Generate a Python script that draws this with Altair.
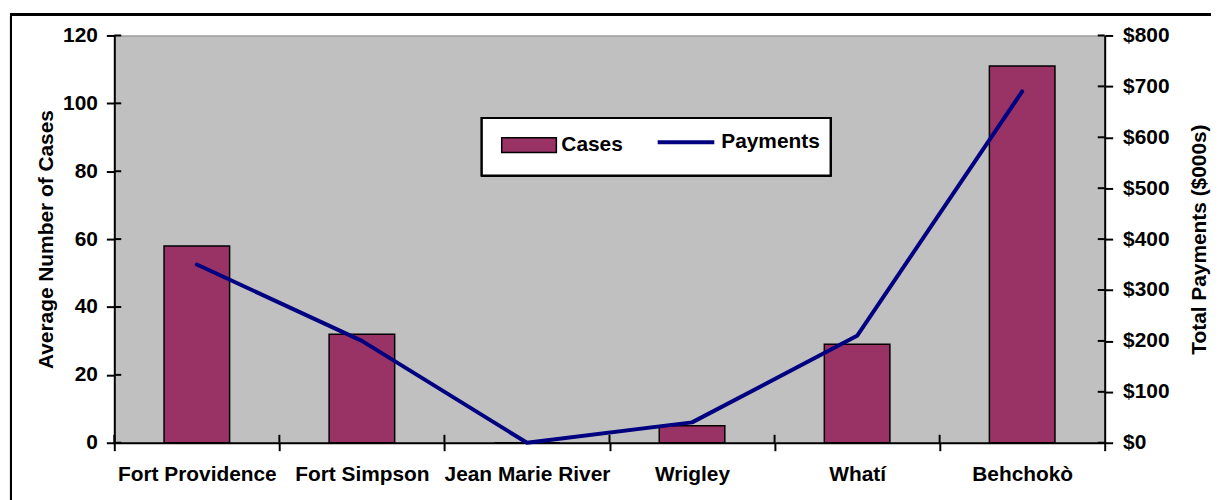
import altair as alt
import pandas as pd

towns = ["Fort Providence", "Fort Simpson", "Jean Marie River", "Wrigley", "Whatí", "Behchokò"]
cases = [58, 32, 0, 5, 29, 111]
payments = [350, 200, 0, 40, 210, 690]
case_ticks = [0, 20, 40, 60, 80, 100, 120]
pay_ticks = [0, 100, 200, 300, 400, 500, 600, 700, 800]

FONT = "Liberation Sans"
FS = 21
W, H = 997, 410

bar_df = pd.DataFrame({"town": towns, "cases": cases, "series": ["Cases"] * len(towns)})
line_df = pd.DataFrame({"town": towns, "payments": payments, "series": ["Payments"] * len(towns)})
ctick_df = pd.DataFrame({"cases": case_ticks})
ptick_df = pd.DataFrame({"payments": pay_ticks})
xtick_df = pd.DataFrame({"town": towns})

xscale = alt.Scale(domain=towns, paddingInner=0, paddingOuter=0)
xaxis = alt.Axis(
    title=None, labelAngle=0, labelFont=FONT, labelFontSize=FS, labelFontWeight="bold",
    labelColor="black", tickBand="extent", tickSize=8, tickWidth=2, tickColor="black",
    domainColor="black", domainWidth=2, labelPadding=13, grid=False,
)

bars = alt.Chart(bar_df).mark_bar(stroke="black", strokeWidth=1.5, size=66).encode(
    x=alt.X("town:N", sort=towns, scale=xscale, axis=xaxis),
    y=alt.Y(
        "cases:Q",
        scale=alt.Scale(domain=[0, 120], nice=False),
        axis=alt.Axis(
            title="Average Number of Cases", values=case_ticks, grid=False,
            labelFont=FONT, labelFontSize=FS, labelFontWeight="bold", labelColor="black",
            tickSize=8, tickWidth=2, tickColor="black", domainColor="black", domainWidth=2,
            labelPadding=9, titleFont=FONT, titleFontSize=FS, titleFontWeight="bold",
            titleColor="black", titleAngle=270, titleX=-62, titleY=H / 2,
            titleBaseline="alphabetic", titleAlign="center",
        ),
    ),
    fill=alt.Fill(
        "series:N",
        scale=alt.Scale(domain=["Cases"], range=["#993366"]),
        legend=alt.Legend(
            orient="none", legendX=389, legendY=82, direction="horizontal", title=None,
            symbolType="M-1,-0.27H1V0.27H-1Z", symbolSize=3025, symbolStrokeColor="black",
            symbolStrokeWidth=1.5, symbolOpacity=1, labelFont=FONT, labelFontSize=FS,
            labelFontWeight="bold", labelColor="black", labelOffset=4, padding=0, zindex=1,
        ),
    ),
)

frame = alt.Chart(bar_df).mark_rect(filled=False, stroke="black", strokeWidth=2).encode(
    x=alt.value(-104), x2=alt.value(1300), y=alt.value(-21), y2=alt.value(700)
)

left_ticks = alt.Chart(ctick_df).mark_rule(color="black", strokeWidth=2).encode(
    y=alt.Y("cases:Q"), x=alt.value(0), x2=alt.value(7)
)

x_ticks = alt.Chart(xtick_df).mark_rule(color="black", strokeWidth=2).encode(
    x=alt.X("town:N", sort=towns, bandPosition=0), y=alt.value(H - 8), y2=alt.value(H)
)

line = alt.Chart(line_df).mark_line(strokeWidth=4, strokeCap="round", strokeJoin="round").encode(
    x=alt.X("town:N", sort=towns, scale=xscale, axis=xaxis),
    y=alt.Y(
        "payments:Q",
        scale=alt.Scale(domain=[0, 800], nice=False),
        axis=alt.Axis(
            orient="right", title="Total Payments ($000s)", values=pay_ticks, grid=False,
            labelExpr="'$' + datum.value",
            labelFont=FONT, labelFontSize=FS, labelFontWeight="bold", labelColor="black",
            tickSize=8, tickWidth=2, tickColor="black", domainColor="black", domainWidth=2,
            labelPadding=10, titleFont=FONT, titleFontSize=FS, titleFontWeight="bold",
            titleColor="black", titleAngle=270, titleX=101, titleY=H / 2,
            titleBaseline="alphabetic", titleAlign="center",
        ),
    ),
    stroke=alt.Stroke(
        "series:N",
        scale=alt.Scale(domain=["Payments"], range=["#000080"]),
        legend=alt.Legend(
            orient="none", legendX=545, legendY=77, direction="horizontal", title=None,
            symbolType="stroke", symbolSize=3249, symbolStrokeWidth=4,
            labelFont=FONT, labelFontSize=FS, labelFontWeight="bold", labelColor="black",
            labelOffset=5, padding=0, zindex=1,
        ),
    ),
)

right_ticks = alt.Chart(ptick_df).mark_rule(color="black", strokeWidth=2).encode(
    y=alt.Y("payments:Q"), x=alt.value(W - 7), x2=alt.value(W)
)

legend_box = alt.Chart(line_df).mark_rect(fill="white", stroke="black", strokeWidth=2).encode(
    x=alt.value(370), x2=alt.value(721), y=alt.value(83), y2=alt.value(141)
)

layer_a = alt.layer(frame, bars, left_ticks, x_ticks)
layer_b = alt.layer(line, right_ticks, legend_box)

chart = (
    alt.layer(layer_a, layer_b)
    .resolve_scale(y="independent", fill="independent", stroke="independent")
    .properties(
        width=W, height=H,
        autosize=alt.AutoSizeParams(type="none"),
        padding={"left": 107, "top": 26, "right": 107, "bottom": 56},
        background="white",
    )
    .configure(font=FONT)
    .configure_view(fill="#C0C0C0", stroke="#808080", strokeWidth=1)
)

chart.save("out.html", embed_options={"renderer": "svg", "actions": False})
